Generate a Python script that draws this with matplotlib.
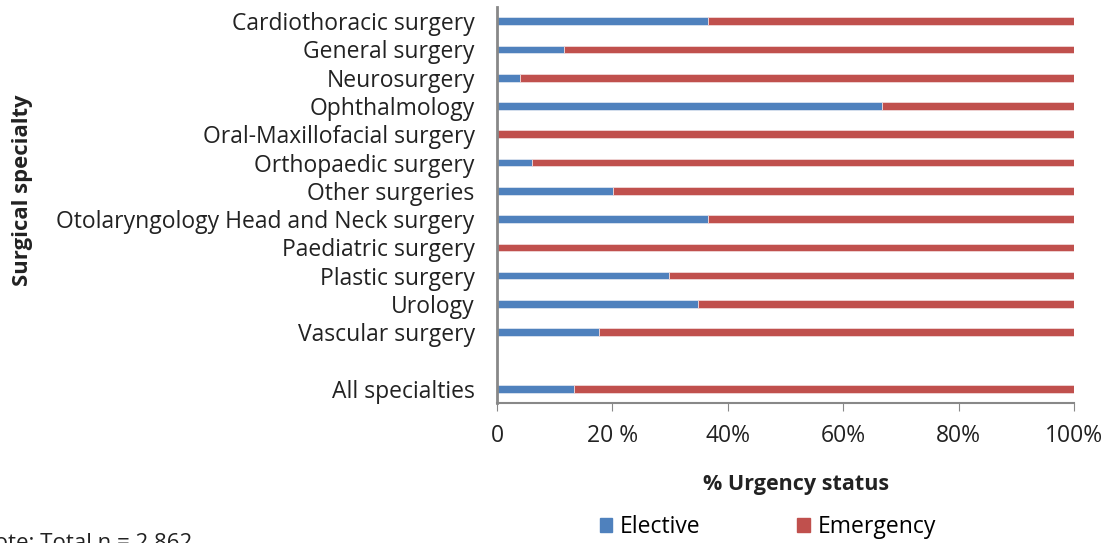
import matplotlib.pyplot as plt
import numpy as np

plt.rcParams['font.family'] = ['Open Sans', 'DejaVu Sans']

specialties = ['Cardiothoracic surgery', 'General surgery', 'Neurosurgery',
               'Ophthalmology', 'Oral-Maxillofacial surgery', 'Orthopaedic surgery',
               'Other surgeries', 'Otolaryngology Head and Neck surgery',
               'Paediatric surgery', 'Plastic surgery', 'Urology', 'Vascular surgery',
               'All specialties']
elective = [36.5, 11.7, 4.0, 66.7, 0.0, 6.0, 20.1, 36.5, 0.0, 29.8, 34.9, 17.6, 13.4]
emergency = [100 - e for e in elective]
xticklabels = ['0', '20 %', '40%', '60%', '80%', '100%']

# leave an empty row before "All specialties"
pos = list(range(12)) + [13]

fig = plt.figure(figsize=(11.16, 5.43), dpi=100)
ax = fig.add_axes([0.4453, 0.258, 0.517, 0.729])

ax.barh(pos, elective, height=0.27, color='#4F81BD', edgecolor='#dbe4f0', linewidth=0.6)
ax.barh(pos, emergency, left=elective, height=0.27, color='#C0504D',
        edgecolor='#f0d8d8', linewidth=0.6)

ax.set_ylim(13.5, -0.5)
ax.set_xlim(0, 100)
ax.set_yticks(pos)
ax.set_yticklabels(specialties, fontsize=16.5, color='#222222')
ax.set_xticks(np.arange(0, 101, 20))
ax.set_xticklabels(xticklabels, fontsize=16.5, color='#222222')
ax.tick_params(axis='y', length=0, pad=16)
ax.tick_params(axis='x', length=6, color='#888888', pad=9)

for s in ['top', 'right']:
    ax.spines[s].set_visible(False)
ax.spines['left'].set_color('#888888')
ax.spines['left'].set_linewidth(2)
ax.spines['bottom'].set_color('#888888')
ax.spines['bottom'].set_linewidth(1.5)

fig.text(0.713, 0.107, '% Urgency status', fontsize=15.5, fontweight='bold',
         ha='center', va='center', color='#222222')
fig.text(0.02, 0.65, 'Surgical specialty', fontsize=15.8, fontweight='bold',
         rotation=90, ha='center', va='center', color='#222222')

handles = [plt.Rectangle((0, 0), 1, 1, color='#4F81BD'),
           plt.Rectangle((0, 0), 1, 1, color='#C0504D')]
fig.legend(handles, ['Elective', 'Emergency'], loc='center', bbox_to_anchor=(0.688, 0.03),
           ncol=2, frameon=False, fontsize=16.5, handlelength=0.55, handleheight=0.55,
           columnspacing=4.2, handletextpad=0.35)

fig.text(-0.02, 0.0, 'Note: Total n = 2,862', fontsize=16, color='#222222',
         ha='left', va='center')

fig.savefig('out.png', dpi=100)
